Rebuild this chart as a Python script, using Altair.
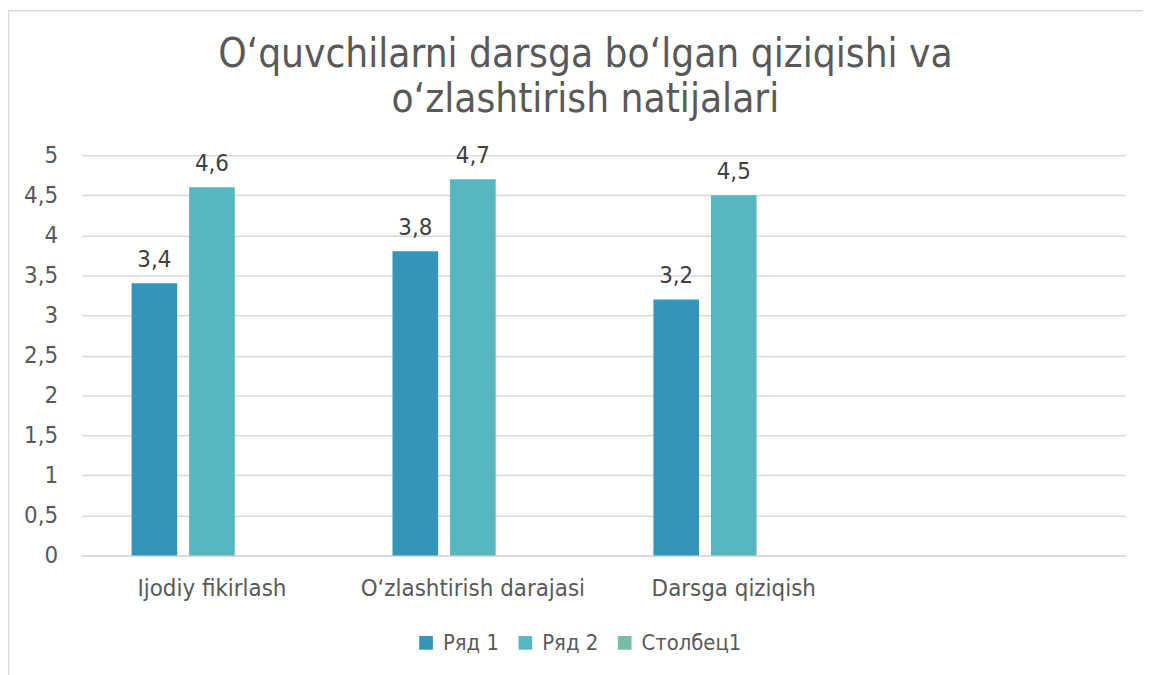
import altair as alt
import pandas as pd

categories = ["Ijodiy fikirlash", "O‘zlashtirish darajasi", "Darsga qiziqish", " "]
series = ["Ряд 1", "Ряд 2", "Столбец1"]
ryad1 = [3.4, 3.8, 3.2]
ryad2 = [4.6, 4.7, 4.5]
colors = ["#3494BA", "#58B6C0", "#75BDA7"]
title_lines = ["O‘quvchilarni darsga bo‘lgan qiziqishi va", "o‘zlashtirish natijalari"]

rows = []
for cat, v in zip(categories, ryad1):
    rows.append({"cat": cat, "series": "Ряд 1", "value": v})
for cat, v in zip(categories, ryad2):
    rows.append({"cat": cat, "series": "Ряд 2", "value": v})
df = pd.DataFrame(rows)
df["label"] = df["value"].map(lambda v: f"{v:.1f}".replace(".", ","))

FONT = "DejaVu Sans Condensed, Liberation Sans Narrow, Liberation Sans"
GRAY = "#595959"

x_enc = alt.X("cat:N", sort=categories,
              scale=alt.Scale(domain=categories, paddingInner=0.384, paddingOuter=0.192),
              axis=alt.Axis(title=None, labelAngle=0, ticks=False, domainColor="#D9D9D9",
                            domainWidth=1.5, labelPadding=21, labelFontSize=24,
                            labelColor=GRAY, labelFont=FONT, labelLimit=0))
xoff = alt.XOffset("series:N",
                   scale=alt.Scale(domain=series, paddingInner=0.207, paddingOuter=0))
y_enc = alt.Y("value:Q", scale=alt.Scale(domain=[0, 5]),
              axis=alt.Axis(title=None, values=[i * 0.5 for i in range(11)],
                            labelExpr="replace(toString(datum.value), '.', ',')",
                            domain=False, ticks=False, gridColor="#D9D9D9", gridWidth=1.5,
                            labelPadding=24, labelFontSize=24, labelColor=GRAY,
                            labelFont=FONT))

bars = alt.Chart(df).mark_bar().encode(
    x=x_enc, xOffset=xoff, y=y_enc,
    color=alt.Color("series:N",
                    scale=alt.Scale(domain=series, range=colors),
                    legend=alt.Legend(title=None, orient="none", direction="horizontal",
                                      legendX=336, legendY=480, symbolType="square",
                                      symbolSize=190, symbolStrokeWidth=0,
                                      labelFontSize=22, labelColor=GRAY, labelFont=FONT,
                                      columnPadding=15, labelOffset=6)),
)

texts = alt.Chart(df).mark_text(baseline="bottom", dy=-11, fontSize=24, color="#404040",
                                font=FONT).encode(
    x=alt.X("cat:N", sort=categories), xOffset=xoff, y="value:Q", text="label:N")

border = alt.Chart(alt.Data(values=[{"a": 1}])).mark_rect(
    fill=None, stroke="#D9D9D9", strokeWidth=1.5).encode(
    x=alt.value(-73.5), x2=alt.value(1090), y=alt.value(-145.5), y2=alt.value(560))

chart = alt.layer(border, bars, texts).properties(
    width=1051, height=403,
    title=alt.Title(title_lines, fontSize=40.5, font=FONT, fontWeight="normal", color=GRAY,
                    anchor="middle", dx=-18, offset=-111, lineHeight=45),
    padding={"left": 74, "top": 146, "right": 18, "bottom": 118},
    autosize=alt.AutoSizeParams(type="none"),
).configure_view(stroke=None)

chart.save("out.html", embed_options={"renderer": "svg", "actions": False})
